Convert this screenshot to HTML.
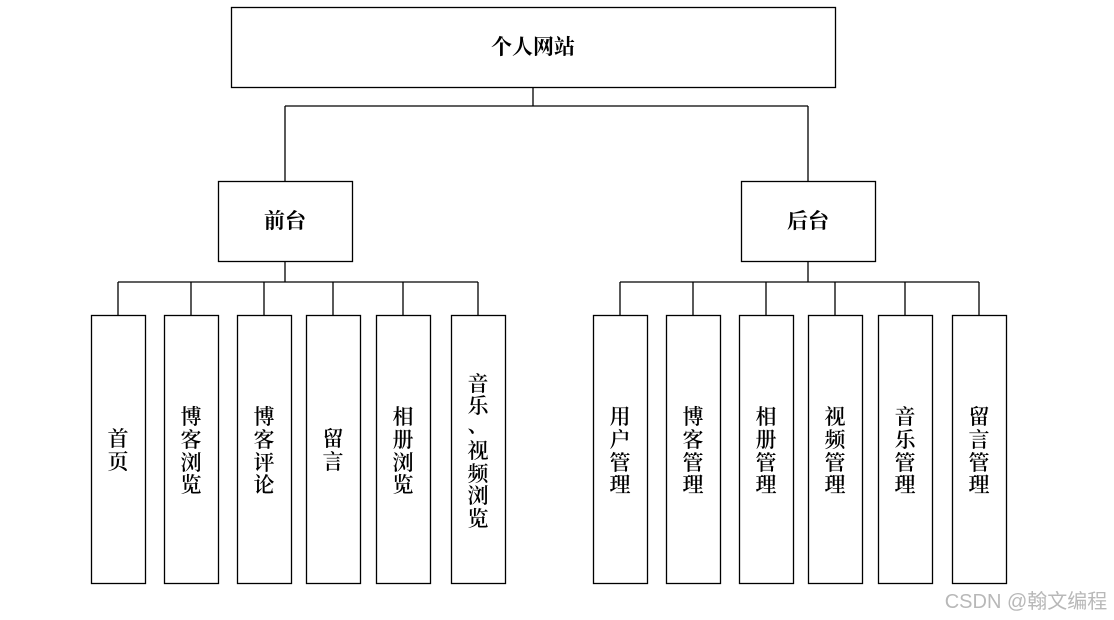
<!DOCTYPE html>
<html><head><meta charset="utf-8"><style>
html,body{margin:0;padding:0;background:#fff;}
svg{display:block;}
text{font-family:"Noto Serif CJK SC","Noto Serif CJK",serif;font-size:21px;fill:#000;text-anchor:middle;font-weight:600;}
</style></head><body>
<svg width="1114" height="620" viewBox="0 0 1114 620" xmlns="http://www.w3.org/2000/svg">
<g fill="none" stroke="#000" stroke-width="1.3">
<rect x="231.5" y="7.5" width="604" height="80"/>
<rect x="218.5" y="181.5" width="134" height="80"/>
<rect x="741.5" y="181.5" width="134" height="80"/>
<path d="M533 87V106M285 106H808M285 106V181M808 106V181"/>
<path d="M285 261V282M118 282H478M808 261V282M620 282H979"/>
<path d="M118 282V316M191 282V316M264 282V316M333 282V316M403 282V316M478 282V316"/>
<path d="M620 282V316M693 282V316M766 282V316M835 282V316M905 282V316M979 282V316"/>
<rect x="91.5" y="315.5" width="54" height="268"/>
<rect x="164.5" y="315.5" width="54" height="268"/>
<rect x="237.5" y="315.5" width="54" height="268"/>
<rect x="306.5" y="315.5" width="54" height="268"/>
<rect x="376.5" y="315.5" width="54" height="268"/>
<rect x="451.5" y="315.5" width="54" height="268"/>
<rect x="593.5" y="315.5" width="54" height="268"/>
<rect x="666.5" y="315.5" width="54" height="268"/>
<rect x="739.5" y="315.5" width="54" height="268"/>
<rect x="808.5" y="315.5" width="54" height="268"/>
<rect x="878.5" y="315.5" width="54" height="268"/>
<rect x="952.5" y="315.5" width="54" height="268"/>
</g>
<text x="533" y="54" style="font-weight:bold">个人网站</text>
<text x="285" y="228" style="font-weight:bold">前台</text>
<text x="808" y="228" style="font-weight:bold">后台</text>
<g>
<text x="118" y="446">首</text><text x="118" y="469">页</text>
<text x="191" y="424">博</text><text x="191" y="447">客</text><text x="191" y="470">浏</text><text x="191" y="492">览</text>
<text x="264" y="424">博</text><text x="264" y="447">客</text><text x="264" y="470">评</text><text x="264" y="492">论</text>
<text x="333" y="446">留</text><text x="333" y="469">言</text>
<text x="403" y="424">相</text><text x="403" y="447">册</text><text x="403" y="470">浏</text><text x="403" y="492">览</text>
<text x="478" y="391">音</text><text x="478" y="413">乐</text><text x="478" y="432">、</text><text x="478" y="458">视</text><text x="478" y="481">频</text><text x="478" y="503">浏</text><text x="478" y="526">览</text>
<text x="620" y="424">用</text><text x="620" y="447">户</text><text x="620" y="470">管</text><text x="620" y="492">理</text>
<text x="693" y="424">博</text><text x="693" y="447">客</text><text x="693" y="470">管</text><text x="693" y="492">理</text>
<text x="766" y="424">相</text><text x="766" y="447">册</text><text x="766" y="470">管</text><text x="766" y="492">理</text>
<text x="835" y="424">视</text><text x="835" y="447">频</text><text x="835" y="470">管</text><text x="835" y="492">理</text>
<text x="905" y="424">音</text><text x="905" y="447">乐</text><text x="905" y="470">管</text><text x="905" y="492">理</text>
<text x="979" y="424">留</text><text x="979" y="447">言</text><text x="979" y="470">管</text><text x="979" y="492">理</text>
</g>
<text x="1026" y="608" style="font-family:'Liberation Sans','Noto Sans CJK SC',sans-serif;font-size:20px;font-weight:normal;fill:#b8b8b8">CSDN @翰文编程</text>
</svg>
</body></html>
